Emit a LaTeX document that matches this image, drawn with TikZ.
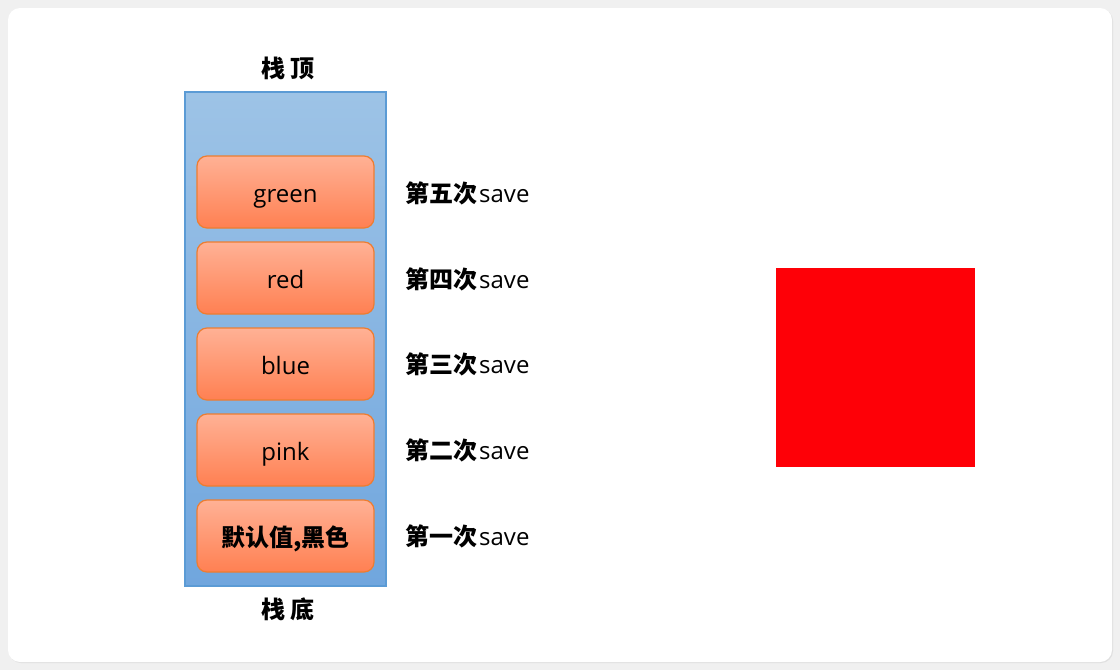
\documentclass[tikz,border=0pt]{standalone}
\usepackage{fontspec}
\setmainfont{Open Sans}
\newfontfamily\cjk{Noto Sans CJK SC}
\usetikzlibrary{shadows}
\definecolor{stackfill}{HTML}{9DC3E6}
\definecolor{stackfillb}{HTML}{70A6DE}
\definecolor{stackedge}{HTML}{5B9BD5}
\definecolor{itemtop}{HTML}{FFB195}
\definecolor{itembot}{HTML}{FF8052}
\definecolor{itemedge}{HTML}{ED7D31}
\definecolor{outerbg}{HTML}{F0F0F0}
\definecolor{squarered}{HTML}{FE0007}
\tikzset{
  itembox/.style={draw=itemedge, line width=1.2pt, rounded corners=10pt, top color=itemtop, bottom color=itembot,
    minimum width=177pt, minimum height=72pt, inner sep=0pt, text height=24pt, text depth=4pt,
    font=\fontsize{24}{28}\selectfont},
  savelabel/.style={anchor=base west, inner sep=0pt, font=\fontsize{24}{28}\selectfont},
  stacklabel/.style={inner sep=0pt, font=\cjk\bfseries\fontsize{24}{28}\selectfont},
}
\newcommand{\cjklab}[1]{{\cjk\bfseries\fontsize{24}{28}\selectfont #1}\hspace{2pt}}
\begin{document}
\begin{tikzpicture}[x=1pt,y=-1pt]
\useasboundingbox (0,0) rectangle (1120,670);
\fill[outerbg] (0,0) rectangle (1120,670);
\fill[white, rounded corners=12pt, drop shadow={shadow xshift=1pt, shadow yshift=-1pt, opacity=0.15}] (8,8) rectangle (1112,662);
% stack
\node[draw=stackedge, line width=1.2pt, top color=stackfill, bottom color=stackfillb, minimum width=201pt, minimum height=494pt, inner sep=0pt] (stack) at (285.5,339) {};
\node[stacklabel] (top) at (288,68) {栈\hspace{5pt}顶};
\node[stacklabel] (bottom) at (288,609) {栈\hspace{5pt}底};
\node[itembox] (green) at (285.5,192) {green};
\node[itembox] (red) at (285.5,278) {red};
\node[itembox] (blue) at (285.5,364) {blue};
\node[itembox] (pink) at (285.5,450) {pink};
\node[itembox, font=\cjk\bfseries\fontsize{24}{28}\selectfont] (default) at (285.5,536) {默认值,黑色};
\node[savelabel] (s5) at (405,202) {\cjklab{第五次}save};
\node[savelabel] (s4) at (405,288) {\cjklab{第四次}save};
\node[savelabel] (s3) at (405,373) {\cjklab{第三次}save};
\node[savelabel] (s2) at (405,459) {\cjklab{第二次}save};
\node[savelabel] (s1) at (405,545) {\cjklab{第一次}save};
% red square
\node[fill=squarered, minimum width=199pt, minimum height=199pt, inner sep=0pt] (square) at (875.5,367.5) {};
\end{tikzpicture}
\end{document}
